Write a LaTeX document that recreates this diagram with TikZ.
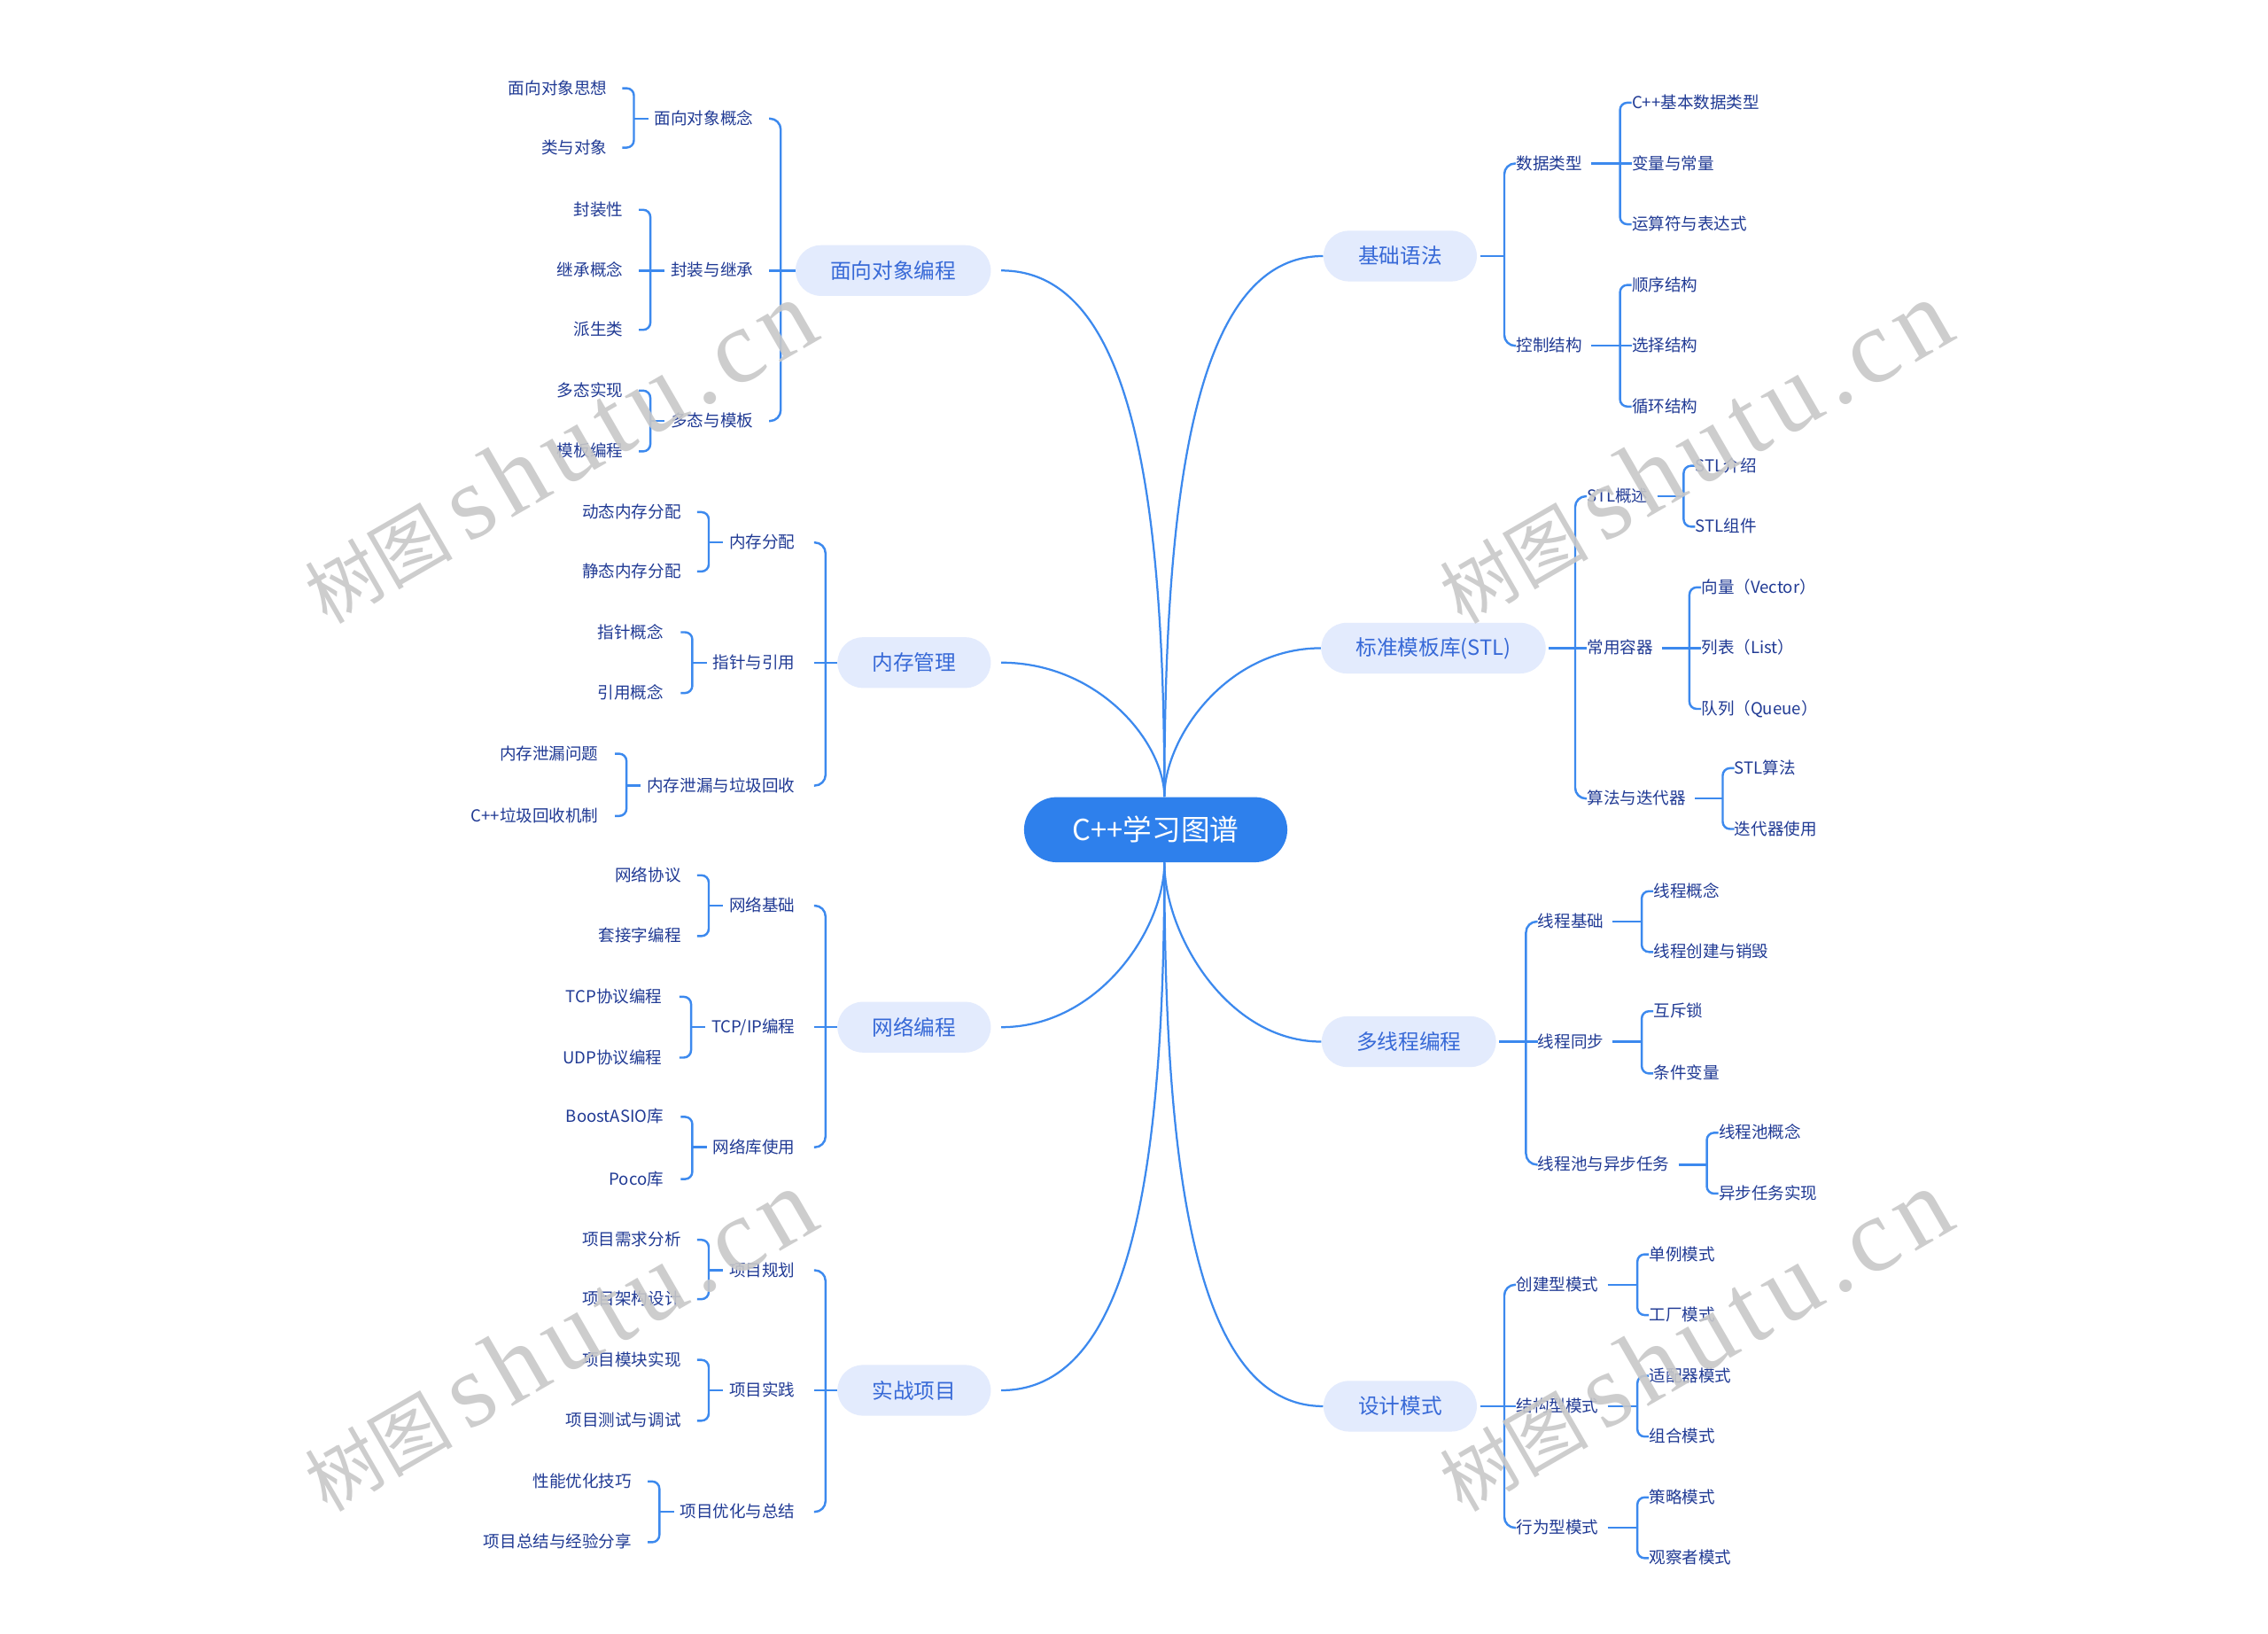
\documentclass[tikz,border=0pt]{standalone}
\usepackage{fontspec}
\setmainfont{Noto Sans CJK SC}
\newfontfamily\wmserif{Liberation Serif}[LetterSpace=8]
\usetikzlibrary{calc}
\definecolor{rootblue}{RGB}{46,128,236}
\definecolor{pillfill}{RGB}{227,235,253}
\definecolor{lonetxt}{RGB}{55,105,215}
\definecolor{linec}{RGB}{60,137,238}
\definecolor{txtc}{RGB}{32,58,148}
\definecolor{wmgray}{RGB}{200,200,200}
\tikzset{
  rootbox/.style={fill=rootblue, text=white, rounded corners=18pt, minimum width=145.6pt, minimum height=36pt, inner sep=0pt, font=\fontsize{16pt}{18pt}\selectfont},
  pill/.style={fill=pillfill, text=lonetxt, rounded corners=14pt, minimum height=28pt, inner xsep=19.2pt, inner ysep=0pt, font=\fontsize{11.6pt}{13pt}\selectfont},
  ltxt/.style={anchor=east, inner sep=0pt, text=txtc, font=\fontsize{9.1pt}{11pt}\selectfont, text height=7.3pt, text depth=0.9pt},
  rtxt/.style={ltxt, anchor=west},
  conn/.style={draw=linec, line width=1.1pt},
  br/.style={draw=linec, line width=1.2pt, rounded corners=4pt},
  bigbr/.style={draw=linec, line width=1.2pt, rounded corners=6pt},
  wm/.style={rotate=30, anchor=base west, text=wmgray, text opacity=0.9, inner sep=0pt}
}
% left bracket: parent, first, last, offset, gap, style
\newcommand\Lbr[6]{%
  \coordinate (bx) at ([xshift=-#4]#1.west);
  \draw[#6] ($(bx |- #2.east)+(-6.4pt,0)$) -- (bx |- #2.east) -- (bx |- #3.east) -- ($(bx |- #3.east)+(-6.4pt,0)$);
  \draw[br] (bx) -- ([xshift=-#5]#1.west);
}
\newcommand\Lmid[1]{\draw[br] ($(bx |- #1.east)+(-6.4pt,0)$) -- (bx |- #1.east);}
% right bracket: parent, first, last, gap, style
\newcommand\Rbr[5]{%
  \coordinate (bx) at ([xshift=-6.4pt]#2.west);
  \draw[#5] (#2.west) -- (bx |- #2.west) -- (bx |- #3.west) -- (#3.west);
  \draw[br] ([xshift=#4]#1.east) -- (bx |- #1.east);
}
\newcommand\Rmid[1]{\draw[br] (bx |- #1.west) -- (#1.west);}
\newcommand\Curve[4]{%
  \draw[conn] (#1) .. controls ($(#1)!#3!(#1 |- #2)$) and ($(#1 |- #2)!#4!(#2)$) .. (#2);
}
\begin{document}
\begin{tikzpicture}[x=0.8pt, y=-0.8pt]
\fill[white] (0,0) rectangle (1568,1129);
\useasboundingbox (0,0) rectangle (1568,1129);

% root
\node[rootbox] (root) at (799,573.5) {C++学习图谱};
\coordinate (rtop) at ([xshift=4.8pt]root.north);
\coordinate (rbot) at ([xshift=4.8pt]root.south);

% level 1
\node[pill] (oop) at (617.5,187) {面向对象编程};
\node[pill] (mem) at (632,458) {内存管理};
\node[pill] (net) at (632,710) {网络编程};
\node[pill] (proj) at (632,961) {实战项目};
\node[pill] (basic) at (968,177) {基础语法};
\node[pill] (stl) at (991,448) {标准模板库(STL)};
\node[pill] (mt) at (974,720) {多线程编程};
\node[pill] (dp) at (968,972) {设计模式};

\coordinate (oopE) at ([xshift=5.6pt]oop.east);
\coordinate (memE) at ([xshift=5.6pt]mem.east);
\coordinate (netE) at ([xshift=5.6pt]net.east);
\coordinate (projE) at ([xshift=5.6pt]proj.east);

\Curve{rtop}{oopE}{0.6}{0.22}
\Curve{rtop}{memE}{0.4}{0.4}
\Curve{rbot}{netE}{0.4}{0.4}
\Curve{rbot}{projE}{0.6}{0.22}
\Curve{rtop}{basic.west}{0.6}{0.22}
\Curve{rtop}{stl.west}{0.4}{0.4}
\Curve{rbot}{mt.west}{0.4}{0.4}
\Curve{rbot}{dp.west}{0.6}{0.22}

% ---------- 面向对象编程 ----------
\node[ltxt] (oop1) at (521,82) {面向对象概念};
\node[ltxt] (oop2) at (521,187) {封装与继承};
\node[ltxt] (oop3) at (521,291) {多态与模板};
\node[ltxt] (oop1a) at (420,61) {面向对象思想};
\node[ltxt] (oop1b) at (420,102) {类与对象};
\node[ltxt] (oop2a) at (431,145) {封装性};
\node[ltxt] (oop2b) at (431,187) {继承概念};
\node[ltxt] (oop2c) at (431,228) {派生类};
\node[ltxt] (oop3a) at (431,270) {多态实现};
\node[ltxt] (oop3b) at (431,312) {模板编程};
\Lbr{oop}{oop1}{oop3}{8pt}{0pt}{bigbr}\Lmid{oop2}
\Lbr{oop1}{oop1a}{oop1b}{11.2pt}{3.2pt}{br}
\Lbr{oop2}{oop2a}{oop2c}{11.2pt}{3.2pt}{br}\Lmid{oop2b}
\Lbr{oop3}{oop3a}{oop3b}{11.2pt}{3.2pt}{br}

% ---------- 内存管理 ----------
\node[ltxt] (mem1) at (550,375) {内存分配};
\node[ltxt] (mem2) at (550,458) {指针与引用};
\node[ltxt] (mem3) at (550,543) {内存泄漏与垃圾回收};
\node[ltxt] (mem1a) at (471,354) {动态内存分配};
\node[ltxt] (mem1b) at (471,395) {静态内存分配};
\node[ltxt] (mem2a) at (459,437) {指针概念};
\node[ltxt] (mem2b) at (459,479) {引用概念};
\node[ltxt] (mem3a) at (414,521) {内存泄漏问题};
\node[ltxt] (mem3b) at (414,564) {C++垃圾回收机制};
\Lbr{mem}{mem1}{mem3}{6.4pt}{0pt}{bigbr}\Lmid{mem2}
\Lbr{mem1}{mem1a}{mem1b}{11.2pt}{3.2pt}{br}
\Lbr{mem2}{mem2a}{mem2b}{11.2pt}{3.2pt}{br}
\Lbr{mem3}{mem3a}{mem3b}{11.2pt}{3.2pt}{br}

% ---------- 网络编程 ----------
\node[ltxt] (net1) at (550,626) {网络基础};
\node[ltxt] (net2) at (550,710) {TCP/IP编程};
\node[ltxt] (net3) at (550,793) {网络库使用};
\node[ltxt] (net1a) at (471,605) {网络协议};
\node[ltxt] (net1b) at (471,647) {套接字编程};
\node[ltxt] (net2a) at (458,689) {TCP协议编程};
\node[ltxt] (net2b) at (458,731) {UDP协议编程};
\node[ltxt] (net3a) at (459,772) {BoostASIO库};
\node[ltxt] (net3b) at (459,815) {Poco库};
\Lbr{net}{net1}{net3}{6.4pt}{0pt}{bigbr}\Lmid{net2}
\Lbr{net1}{net1a}{net1b}{11.2pt}{3.2pt}{br}
\Lbr{net2}{net2a}{net2b}{11.2pt}{3.2pt}{br}
\Lbr{net3}{net3a}{net3b}{11.2pt}{3.2pt}{br}

% ---------- 实战项目 ----------
\node[ltxt] (proj1) at (550,878) {项目规划};
\node[ltxt] (proj2) at (550,961) {项目实践};
\node[ltxt] (proj3) at (550,1045) {项目优化与总结};
\node[ltxt] (proj1a) at (471,857) {项目需求分析};
\node[ltxt] (proj1b) at (471,898) {项目架构设计};
\node[ltxt] (proj2a) at (471,940) {项目模块实现};
\node[ltxt] (proj2b) at (471,982) {项目测试与调试};
\node[ltxt] (proj3a) at (437,1024) {性能优化技巧};
\node[ltxt] (proj3b) at (437,1066) {项目总结与经验分享};
\Lbr{proj}{proj1}{proj3}{6.4pt}{0pt}{bigbr}\Lmid{proj2}
\Lbr{proj1}{proj1a}{proj1b}{11.2pt}{3.2pt}{br}
\Lbr{proj2}{proj2a}{proj2b}{11.2pt}{3.2pt}{br}
\Lbr{proj3}{proj3a}{proj3b}{11.2pt}{3.2pt}{br}

% ---------- 基础语法 ----------
\node[rtxt] (bas1) at (1048,113) {数据类型};
\node[rtxt] (bas2) at (1048,239) {控制结构};
\node[rtxt] (bas1a) at (1128,71) {C++基本数据类型};
\node[rtxt] (bas1b) at (1128,113) {变量与常量};
\node[rtxt] (bas1c) at (1128,155) {运算符与表达式};
\node[rtxt] (bas2a) at (1128,197) {顺序结构};
\node[rtxt] (bas2b) at (1128,239) {选择结构};
\node[rtxt] (bas2c) at (1128,281) {循环结构};
\Rbr{basic}{bas1}{bas2}{1.6pt}{bigbr}
\Rbr{bas1}{bas1a}{bas1c}{4.8pt}{br}\Rmid{bas1b}
\Rbr{bas2}{bas2a}{bas2c}{4.8pt}{br}\Rmid{bas2b}

% ---------- 标准模板库 ----------
\node[rtxt] (stl1) at (1097,343) {STL概述};
\node[rtxt] (stl2) at (1097,448) {常用容器};
\node[rtxt] (stl3) at (1097,552) {算法与迭代器};
\node[rtxt] (stl1a) at (1172,322) {STL介绍};
\node[rtxt] (stl1b) at (1172,364) {STL组件};
\node[rtxt] (stl2a) at (1176,406) {向量（Vector）};
\node[rtxt] (stl2b) at (1176,448) {列表（List）};
\node[rtxt] (stl2c) at (1176,490) {队列（Queue）};
\node[rtxt] (stl3a) at (1199,531) {STL算法};
\node[rtxt] (stl3b) at (1199,573) {迭代器使用};
\Rbr{stl}{stl1}{stl3}{1.6pt}{bigbr}\Rmid{stl2}
\Rbr{stl1}{stl1a}{stl1b}{4.8pt}{br}
\Rbr{stl2}{stl2a}{stl2c}{4.8pt}{br}\Rmid{stl2b}
\Rbr{stl3}{stl3a}{stl3b}{4.8pt}{br}

% ---------- 多线程编程 ----------
\node[rtxt] (mt1) at (1063,637) {线程基础};
\node[rtxt] (mt2) at (1063,720) {线程同步};
\node[rtxt] (mt3) at (1063,805) {线程池与异步任务};
\node[rtxt] (mt1a) at (1143,616) {线程概念};
\node[rtxt] (mt1b) at (1143,658) {线程创建与销毁};
\node[rtxt] (mt2a) at (1143,699) {互斥锁};
\node[rtxt] (mt2b) at (1143,742) {条件变量};
\node[rtxt] (mt3a) at (1188,783) {线程池概念};
\node[rtxt] (mt3b) at (1188,825) {异步任务实现};
\Rbr{mt}{mt1}{mt3}{1.6pt}{bigbr}\Rmid{mt2}
\Rbr{mt1}{mt1a}{mt1b}{4.8pt}{br}
\Rbr{mt2}{mt2a}{mt2b}{4.8pt}{br}
\Rbr{mt3}{mt3a}{mt3b}{4.8pt}{br}

% ---------- 设计模式 ----------
\node[rtxt] (dp1) at (1048,888) {创建型模式};
\node[rtxt] (dp2) at (1048,972) {结构型模式};
\node[rtxt] (dp3) at (1048,1056) {行为型模式};
\node[rtxt] (dp1a) at (1140,867) {单例模式};
\node[rtxt] (dp1b) at (1140,909) {工厂模式};
\node[rtxt] (dp2a) at (1140,951) {适配器模式};
\node[rtxt] (dp2b) at (1140,993) {组合模式};
\node[rtxt] (dp3a) at (1140,1035) {策略模式};
\node[rtxt] (dp3b) at (1140,1077) {观察者模式};
\Rbr{dp}{dp1}{dp3}{1.6pt}{bigbr}\Rmid{dp2}
\Rbr{dp1}{dp1a}{dp1b}{4.8pt}{br}
\Rbr{dp2}{dp2a}{dp2b}{4.8pt}{br}
\Rbr{dp3}{dp3a}{dp3b}{4.8pt}{br}

% ---------- watermarks ----------
\foreach \dx/\dy [count=\i] in {0/0, 785/0, 0/614, 785/614}{
  \node[wm] (wm\i) at (226+\dx,432+\dy) {\fontsize{41pt}{41pt}\selectfont 树图\hspace{8pt}{\wmserif\fontsize{58pt}{58pt}\selectfont shutu.cn}};
}
\end{tikzpicture}
\end{document}
